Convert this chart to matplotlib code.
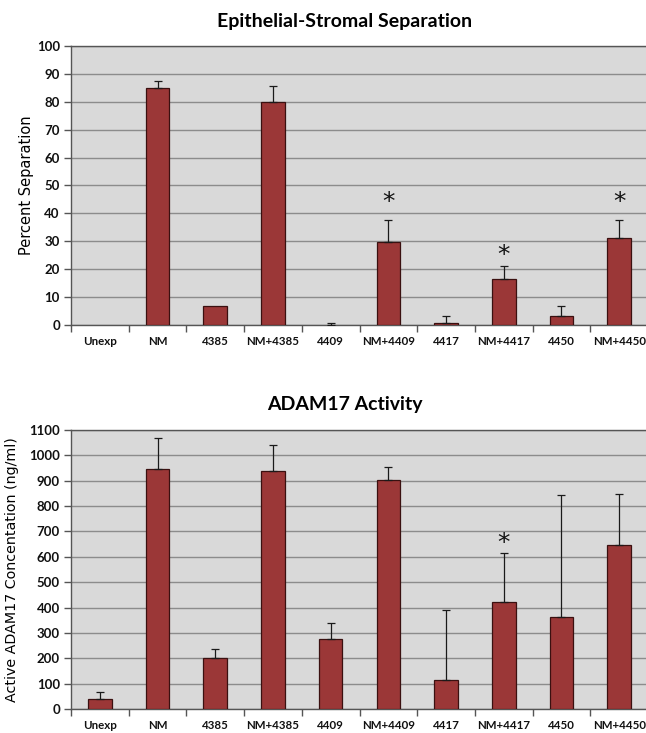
import matplotlib
matplotlib.use("Agg")
import matplotlib.pyplot as plt
import numpy as np

categories = ["Unexp", "NM", "4385", "NM+4385", "4409", "NM+4409", "4417", "NM+4417", "4450", "NM+4450"]

sep_values = [0, 84.9, 6.7, 79.8, 0, 29.7, 0.6, 16.5, 3.4, 31.1]
sep_err = [np.nan, 2.5, np.nan, 5.8, 0.6, 7.9, 2.8, 4.8, 3.5, 6.5]
sep_star_y = [None, None, None, None, None, 44, None, 25, None, 44]

adam_values = [39, 946, 201, 937, 275, 903, 114, 420, 361, 645]
adam_err = [29, 121, 37, 104, 63, 52, 278, 195, 483, 203]
adam_star_y = [None, None, None, None, None, None, None, 653, None, None]

BAR_COLOR = "#9B3737"
EDGE = "#3a1010"
BG = "#D9D9D9"
GRID = "#8C8C8C"
TICKFONT = "Lato"
TITLEFONT = "Lato"

fig = plt.figure(figsize=(6.46, 7.33), dpi=100)
W, H = 646, 733

def make_ax(top_px, bottom_px):
    left = 71 / W
    right = 648 / W
    return fig.add_axes([left, 1 - bottom_px / H, right - left, (bottom_px - top_px) / H])

def draw(ax, top_px, bot_px, values, err, star_y, ymax, ystep, title, ylabel, ylabel_x, title_y, ylabel_size):
    x = np.arange(len(categories))
    ax.set_facecolor(BG)
    vals = np.array(values, dtype=float)
    ax.bar(x, vals, width=0.41, color=BAR_COLOR,
           edgecolor=[EDGE if v > 0 else (0, 0, 0, 0) for v in vals], linewidth=0.9, zorder=3)
    e = np.array(err, dtype=float)
    ok = ~np.isnan(e)
    ax.errorbar(x[ok], vals[ok], yerr=[np.zeros(ok.sum()), e[ok]], fmt="none", ecolor="#1a1a1a",
                elinewidth=0.9, capsize=3, capthick=0.9, zorder=4)
    for xi, sy in zip(x, star_y):
        if sy is not None:
            ax.text(xi, sy, "*", ha="center", va="center", fontsize=18,
                    fontfamily="DejaVu Sans", color="#111111", zorder=5)
    ax.set_xlim(-0.5, len(categories) - 0.5)
    ax.set_ylim(0, ymax)
    ax.set_yticks(np.arange(0, ymax + 1, ystep))
    ax.yaxis.grid(True, color=GRID, linewidth=1.0, zorder=0)
    ax.set_axisbelow(True)
    ax.set_xticks(x)
    ax.set_xticklabels(categories)
    ax.set_xticks(np.arange(-0.5, len(categories) + 0.5, 1), minor=True)
    ax.tick_params(axis="x", which="major", length=0, pad=8)
    ax.tick_params(axis="x", which="minor", length=5, width=1, color="#555555", direction="out")
    ax.tick_params(axis="y", length=5, width=1, color="#555555", direction="out", pad=3)
    for lab in ax.get_xticklabels():
        lab.set_fontfamily(TICKFONT)
        lab.set_fontweight("bold")
        lab.set_fontsize(8.3)
        lab.set_color("#111111")
    for lab in ax.get_yticklabels():
        lab.set_fontfamily(TICKFONT)
        lab.set_fontweight("bold")
        lab.set_fontsize(9.5)
        lab.set_color("#111111")
    for sp in ["left", "bottom", "top"]:
        ax.spines[sp].set_color("#555555")
        ax.spines[sp].set_linewidth(1.0)
    ax.spines["right"].set_visible(False)
    fig.text(345 / W, 1 - title_y / H, title, ha="center", va="center",
             fontsize=14, fontweight="bold", fontfamily=TITLEFONT)
    fig.text(ylabel_x / W, 1 - (top_px + bot_px) / 2 / H, ylabel,
             rotation=90, ha="center", va="center", fontsize=ylabel_size, fontfamily="DejaVu Sans")

ax1 = make_ax(46, 325)
ax2 = make_ax(430, 709)

draw(ax1, 46, 325, sep_values, sep_err, sep_star_y, 100, 10,
     "Epithelial-Stromal Separation", "Percent Separation", 27, 21, 10.5)
draw(ax2, 430, 709, adam_values, adam_err, adam_star_y, 1100, 100,
     "ADAM17 Activity", "Active ADAM17 Concentation (ng/ml)", 12, 404, 10.3)

fig.savefig("out.png", dpi=100, facecolor="white")
